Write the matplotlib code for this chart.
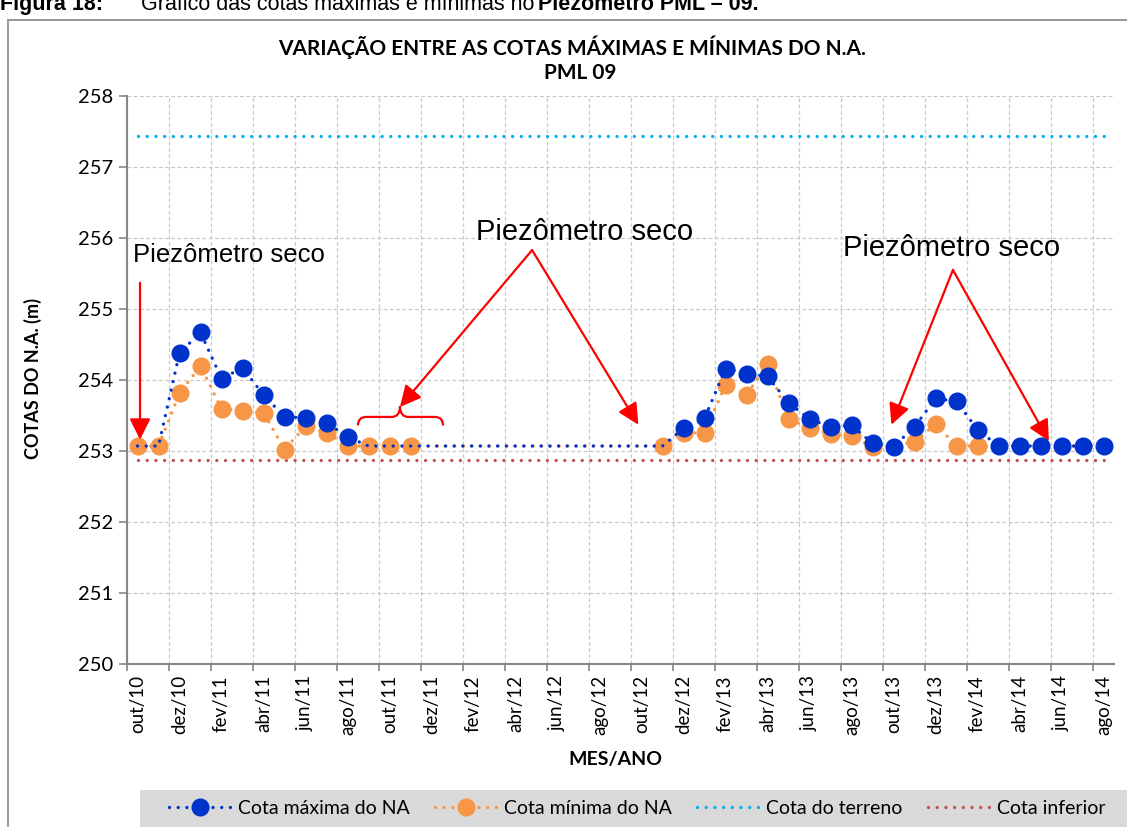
import matplotlib.pyplot as plt
from matplotlib.patches import Rectangle, PathPatch
from matplotlib.path import Path
from matplotlib.lines import Line2D

# Meses da série (eixo de categorias)
meses = ['out/10', 'nov/10', 'dez/10', 'jan/11', 'fev/11', 'mar/11', 'abr/11', 'mai/11',
         'jun/11', 'jul/11', 'ago/11', 'set/11', 'out/11', 'nov/11', 'dez/11', 'jan/12',
         'fev/12', 'mar/12', 'abr/12', 'mai/12', 'jun/12', 'jul/12', 'ago/12', 'set/12',
         'out/12', 'nov/12', 'dez/12', 'jan/13', 'fev/13', 'mar/13', 'abr/13', 'mai/13',
         'jun/13', 'jul/13', 'ago/13', 'set/13', 'out/13', 'nov/13', 'dez/13', 'jan/14',
         'fev/14', 'mar/14', 'abr/14', 'mai/14', 'jun/14', 'jul/14', 'ago/14']

cota_max = [253.07, 253.07, 254.38, 254.67, 254.02, 254.17, 253.79, 253.48,
            253.47, 253.40, 253.20, 253.07, 253.07, 253.07, 253.07, 253.07,
            253.07, 253.07, 253.07, 253.07, 253.07, 253.07, 253.07, 253.07,
            253.07, 253.07, 253.32, 253.46, 254.16, 254.09, 254.05, 253.68,
            253.45, 253.34, 253.36, 253.11, 253.06, 253.34, 253.74, 253.70,
            253.30, 253.07, 253.07, 253.07, 253.07, 253.07, 253.07]

cota_min = [253.07, 253.07, 253.81, 254.20, 253.59, 253.57, 253.54, 253.02,
            253.35, 253.26, 253.07, 253.07, 253.07, 253.07, 253.07, 253.07,
            253.07, 253.07, 253.07, 253.07, 253.07, 253.07, 253.07, 253.07,
            253.07, 253.07, 253.25, 253.26, 253.93, 253.79, 254.22, 253.45,
            253.33, 253.24, 253.21, 253.06, 253.07, 253.13, 253.38, 253.07,
            253.07, 253.07, 253.07, 253.07, 253.07, 253.07, 253.07]

cota_terreno = 257.44
cota_inferior = 252.87

# meses sem marcador (piezômetro seco / sem leitura)
sem_marca_max = [0, 1, 11, 12, 13, 14, 15, 16, 17, 18, 19, 20, 21, 22, 23, 24, 25]
sem_marca_min = [14, 15, 16, 17, 18, 19, 20, 21, 22, 23, 24, 36, 41, 42, 43, 44, 45, 46]

W, H = 1127, 827
def fx(p): return p / W
def fy(p): return 1 - p / H

AZUL = '#0033CC'
LARANJA = '#F79646'
CIANO = '#00B0F0'
VERMELHO = '#C0504D'
pontilhado = dict(ls=(0, (0.01, 2.6)), dash_capstyle='round', lw=2.4)
pontilhado2 = dict(ls=(1.3, (0.01, 2.6)), dash_capstyle='round', lw=2.4)

fig = plt.figure(figsize=(W / 100, H / 100), dpi=100)
ax = fig.add_axes([fx(127), fy(664), fx(1114) - fx(127), fy(96) - fy(664)])

x = list(range(len(meses)))
mk_max = [i for i in x if i not in sem_marca_max]
mk_min = [i for i in x if i not in sem_marca_min]

ax.plot(x, [cota_terreno] * len(x), color=CIANO, zorder=2, **pontilhado)
ax.plot(x, [cota_inferior] * len(x), color=VERMELHO, zorder=2, **pontilhado)
ax.plot(x, cota_min, color=LARANJA, marker='o', ms=12, markevery=mk_min,
        mec=LARANJA, zorder=3, **pontilhado2)
ax.plot(x, cota_max, color=AZUL, marker='o', ms=12, markevery=mk_max,
        mec=AZUL, zorder=4, **pontilhado)

ax.set_xlim(-0.5, len(meses) - 0.5)
ax.set_ylim(250, 258)
ax.set_yticks(range(250, 259))
ax.set_xticks([i - 0.5 for i in range(0, len(meses) + 1, 2)])
ax.set_xticklabels([])
ax.set_xticks(x[::2], minor=True)
ax.set_xticklabels(meses[::2], minor=True, rotation=90, fontsize=13.5, family='Lato')
ax.tick_params(axis='x', which='minor', length=0, pad=8)
ax.tick_params(axis='x', which='major', length=5, color='#868686', width=1.2)
ax.tick_params(axis='y', length=6, color='#868686', width=1.2, labelsize=14.5, pad=4)
for t in ax.get_yticklabels():
    t.set_family('Lato')
ax.grid(True, which='major', color='#C8C8C8', ls=(0, (3, 2)), lw=0.9)
ax.set_axisbelow(True)
for s in ['top', 'right']:
    ax.spines[s].set_visible(False)
for s in ['left', 'bottom']:
    ax.spines[s].set_color('#868686')
    ax.spines[s].set_linewidth(1.5)

fig.text(fx(33), fy(378), 'COTAS DO N.A. (m)', rotation=90, ha='center', va='center',
         fontsize=13, weight='bold', family='Lato')
fig.text(fx(615), fy(760), 'MES/ANO', ha='center', va='center',
         fontsize=14, weight='bold', family='Lato')
fig.text(fx(572), fy(47), 'VARIAÇÃO ENTRE AS COTAS MÁXIMAS E MÍNIMAS DO N.A.', ha='center',
         va='center', fontsize=15, weight='bold', family='Lato')
fig.text(fx(580), fy(73), 'PML 09', ha='center', va='center',
         fontsize=15, weight='bold', family='Lato')

# legenda do documento (cortada no topo, como no original)
leg_doc = dict(fontsize=15.5, family='Liberation Sans', va='baseline')
fig.text(0, fy(10), 'Figura 18:', weight='bold', **leg_doc)
fig.text(fx(141), fy(10), 'Gráfico das cotas máximas e mínimas no', **leg_doc)
fig.text(fx(538), fy(10), 'Piezômetro PML – 09.', weight='bold', **leg_doc)

# anotações
nota = dict(family='Liberation Sans', ha='center', va='center')
ax.text(4.36, 255.76, 'Piezômetro seco', fontsize=18.5, **nota)
ax.text(21.3, 256.08, 'Piezômetro seco', fontsize=21, **nota)
ax.text(38.75, 255.86, 'Piezômetro seco', fontsize=21, **nota)
seta = dict(arrowstyle='-|>', color='#FF0000', lw=1.6, mutation_scale=32, shrinkA=0, shrinkB=0)
ax.annotate('', xy=(0.12, 253.16), xytext=(0.12, 255.37), arrowprops=seta)
ax.annotate('', xy=(12.5, 253.62), xytext=(18.79, 255.83), arrowprops=seta)
ax.annotate('', xy=(23.85, 253.37), xytext=(18.79, 255.83), arrowprops=seta)
ax.annotate('', xy=(35.9, 253.37), xytext=(38.83, 255.55), arrowprops=seta)
ax.annotate('', xy=(43.4, 253.14), xytext=(38.83, 255.55), arrowprops=seta)

# chave
x0, x1, xm = 10.5, 14.55, 12.5
yb, yh, yt = 253.36, 253.48, 253.63
cod = [Path.MOVETO, Path.CURVE3, Path.CURVE3, Path.LINETO, Path.CURVE3, Path.CURVE3,
       Path.CURVE3, Path.CURVE3, Path.LINETO, Path.CURVE3, Path.CURVE3]
pts = [(x0, yb), (x0, yh), (x0 + 0.4, yh), (xm - 0.4, yh), (xm, yh), (xm, yt),
       (xm, yh), (xm + 0.4, yh), (x1 - 0.4, yh), (x1, yh), (x1, yb)]
ax.add_patch(PathPatch(Path(pts, cod), fill=False, edgecolor='#FF0000', lw=1.6, zorder=5))

# legenda
handles = [
    Line2D([], [], color=AZUL, marker='o', ms=12, mec=AZUL, **pontilhado),
    Line2D([], [], color=LARANJA, marker='o', ms=12, mec=LARANJA, **pontilhado),
    Line2D([], [], color=CIANO, **pontilhado),
    Line2D([], [], color=VERMELHO, **pontilhado),
]
labels = ['Cota máxima do NA', 'Cota mínima do NA', 'Cota do terreno', 'Cota inferior']
fig.patches.append(Rectangle((fx(140), 0), 1 - fx(140), fy(790), transform=fig.transFigure,
                             facecolor='#D9D9D9', edgecolor='none', zorder=0))
fig.legend(handles, labels, loc='center', bbox_to_anchor=(fx(637), fy(808)), ncol=4,
           frameon=False, prop={'family': 'Lato', 'size': 14}, handlelength=3.2,
           columnspacing=1.3, handletextpad=0.35, numpoints=1)

# moldura do gráfico
fig.patches.append(Rectangle((fx(8), -0.1), 1.2, fy(20) + 0.1, transform=fig.transFigure,
                             fill=False, edgecolor='#868686', lw=1.2, zorder=0))

fig.savefig('out.png', dpi=100)
